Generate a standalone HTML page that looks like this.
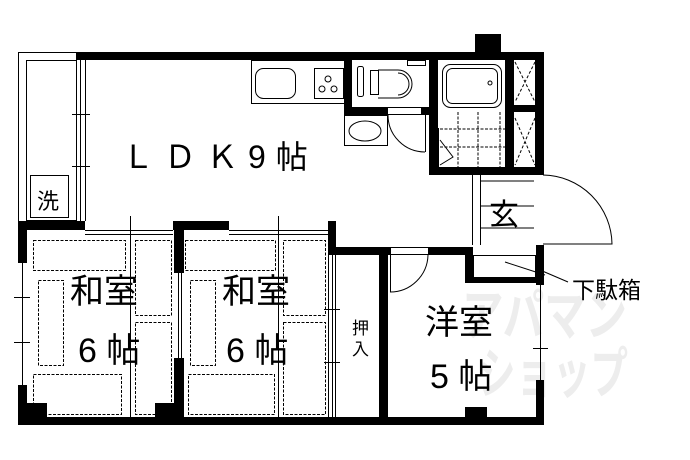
<!DOCTYPE html>
<html><head><meta charset="utf-8"><style>
html,body{margin:0;padding:0;background:#fff;width:690px;height:460px;overflow:hidden}
svg{display:block}
text{font-family:"Liberation Sans","Noto Sans CJK JP",sans-serif;fill:#000}
</style></head><body>
<svg width="690" height="460" viewBox="0 0 690 460" xmlns="http://www.w3.org/2000/svg">
<g font-weight="bold">
<text x="462" y="335" font-size="55" textLength="165" lengthAdjust="spacingAndGlyphs" style="fill:#ededed">アパマン</text>
<text x="478" y="393" font-size="55" textLength="150" lengthAdjust="spacingAndGlyphs" style="fill:#ededed">ショップ</text>
</g>
<g fill="none" stroke="#000" stroke-width="1">
<rect x="18.5" y="52.5" width="58" height="170"/>
<rect x="26.5" y="60.5" width="50" height="160"/>
<line x1="76.5" y1="60" x2="76.5" y2="221"/><line x1="80.5" y1="60" x2="80.5" y2="221"/><line x1="85.5" y1="60" x2="85.5" y2="221"/>
<line x1="72" y1="114.5" x2="90" y2="114.5"/><line x1="72" y1="166.5" x2="90" y2="166.5"/>
<rect x="30.5" y="175.5" width="38" height="42"/>
<rect x="251.5" y="60.5" width="93" height="43"/>
<rect x="255.5" y="68.5" width="40" height="30" rx="8"/>
<rect x="314.5" y="68.5" width="29" height="30"/>
<circle cx="328" cy="79" r="3"/><circle cx="322" cy="89" r="3"/><circle cx="334" cy="89" r="3"/>
<rect x="357.5" y="66.5" width="6" height="30" rx="2"/>
<rect x="370.5" y="70.5" width="8" height="24"/>
<path d="M378 70 H398 A12 12 0 0 1 398 98 H378"/>
<path d="M398 73 A10 10 0 0 1 398 95"/>
<rect x="407.5" y="60.5" width="18" height="5"/>
<rect x="344.5" y="115.5" width="43" height="30"/>
<ellipse cx="365" cy="131" rx="16" ry="10"/>
<rect x="387.5" y="107.5" width="37" height="7"/>
<path d="M388 115 A37 37 0 0 0 425 152"/><line x1="425.5" y1="115" x2="425.5" y2="152"/>
<rect x="442.5" y="64.5" width="59" height="43" rx="8"/>
<rect x="446.5" y="68.5" width="51" height="35" rx="6"/>
<circle cx="490" cy="83" r="2"/>
<rect x="430.5" y="128.5" width="8" height="38"/>
<path d="M440 140 L453 157 L440 165"/>
<path d="M515 62 L535 102 M535 62 L515 102 M515 118 L535 165 M535 118 L515 165" stroke-dasharray="3,2"/>
<line x1="472.5" y1="175" x2="472.5" y2="245"/><line x1="480.5" y1="175" x2="480.5" y2="245"/>
<path d="M481 181 H534 M481 206 H534 M481 228 H534" />
<path d="M543 175 A70 70 0 0 1 612 244 H543"/>
<rect x="473.5" y="255.5" width="62" height="22"/>
<line x1="505" y1="262" x2="545" y2="275"/>
<line x1="540" y1="270" x2="568" y2="282"/>
<rect x="390.5" y="247.5" width="38" height="7"/>
<path d="M428 255 A38 38 0 0 1 390 292"/><line x1="390.5" y1="255" x2="390.5" y2="292"/>
<line x1="328.5" y1="255" x2="328.5" y2="417"/><line x1="332.5" y1="255" x2="332.5" y2="417"/><line x1="335.5" y1="255" x2="335.5" y2="417"/>
<line x1="324" y1="309.5" x2="340" y2="309.5"/><line x1="324" y1="362.5" x2="340" y2="362.5"/>
<line x1="85" y1="230.5" x2="173" y2="230.5"/><line x1="85" y1="234.5" x2="173" y2="234.5"/>
<line x1="229" y1="230.5" x2="328" y2="230.5"/><line x1="229" y1="234.5" x2="328" y2="234.5"/>
<line x1="130.5" y1="216" x2="130.5" y2="417"/><line x1="278.5" y1="216" x2="278.5" y2="417"/>
<line x1="22.5" y1="262" x2="22.5" y2="385"/>
<line x1="14" y1="297.5" x2="30" y2="297.5"/><line x1="14" y1="342.5" x2="30" y2="342.5"/>
<line x1="178.5" y1="273" x2="178.5" y2="358"/><line x1="181.5" y1="273" x2="181.5" y2="358"/>
<line x1="540.5" y1="285" x2="540.5" y2="380"/>
<line x1="533" y1="348.5" x2="548" y2="348.5"/>
</g>
<g fill="none" stroke="#000" stroke-width="1" stroke-dasharray="3,1.5">
<rect x="33.5" y="240.5" width="92" height="30"/><rect x="135.5" y="240.5" width="36" height="75"/>
<rect x="38.5" y="280.5" width="25" height="85"/><rect x="135.5" y="322.5" width="36" height="92"/>
<rect x="33.5" y="374.5" width="88" height="40"/>
<rect x="185.5" y="240.5" width="90" height="30"/><rect x="283.5" y="240.5" width="42" height="75"/>
<rect x="190.5" y="280.5" width="25" height="85"/><rect x="283.5" y="322.5" width="42" height="92"/>
<rect x="188.5" y="374.5" width="86" height="40"/>
<path d="M440 129 H505 M440 147 H505 M458 112 V167 M478 112 V167 M500 112 V167"/>
</g>
<g fill="#000">
<rect x="76" y="52" width="468" height="8"/>
<rect x="475" y="34" width="26" height="18"/>
<rect x="344" y="60" width="8" height="55"/>
<rect x="344" y="107" width="44" height="8"/>
<rect x="421" y="107" width="8" height="8"/>
<rect x="429" y="60" width="9" height="115"/>
<rect x="505" y="60" width="9" height="115"/>
<rect x="535" y="60" width="9" height="115"/>
<rect x="514" y="105" width="22" height="7"/>
<rect x="429" y="167" width="115" height="8"/>
<rect x="18" y="221" width="67" height="9"/>
<rect x="173" y="221" width="56" height="9"/>
<rect x="18" y="221" width="9" height="42"/><rect x="18" y="385" width="9" height="40"/>
<rect x="27" y="403" width="20" height="14"/><rect x="155" y="403" width="20" height="14"/>
<rect x="174" y="221" width="10" height="52"/><rect x="174" y="358" width="10" height="60"/>
<rect x="328" y="221" width="8" height="34"/>
<rect x="328" y="247" width="62" height="8"/>
<rect x="428" y="247" width="45" height="8"/>
<rect x="379" y="247" width="9" height="170"/>
<rect x="465" y="247" width="8" height="35"/>
<rect x="465" y="277" width="78" height="6"/>
<rect x="536" y="245" width="8" height="40"/>
<rect x="536" y="380" width="8" height="45"/>
<rect x="465" y="407" width="22" height="10"/>
<rect x="18" y="417" width="526" height="8"/>
</g>
<text x="122" y="168" font-size="32" letter-spacing="10">ＬＤＫ9帖</text>
<text x="37" y="209" font-size="22">洗</text>
<text x="70" y="303" font-size="34">和室</text>
<text x="78" y="362" font-size="34">6 帖</text>
<text x="222" y="303" font-size="34">和室</text>
<text x="226" y="362" font-size="34">6 帖</text>
<text x="425" y="334" font-size="34">洋室</text>
<text x="430" y="388" font-size="34">5 帖</text>
<text x="352" y="334" font-size="17">押</text>
<text x="352" y="355" font-size="17">入</text>
<text x="489" y="225" font-size="30">玄</text>
<text x="572" y="298" font-size="23">下駄箱</text>
</svg>
</body></html>
